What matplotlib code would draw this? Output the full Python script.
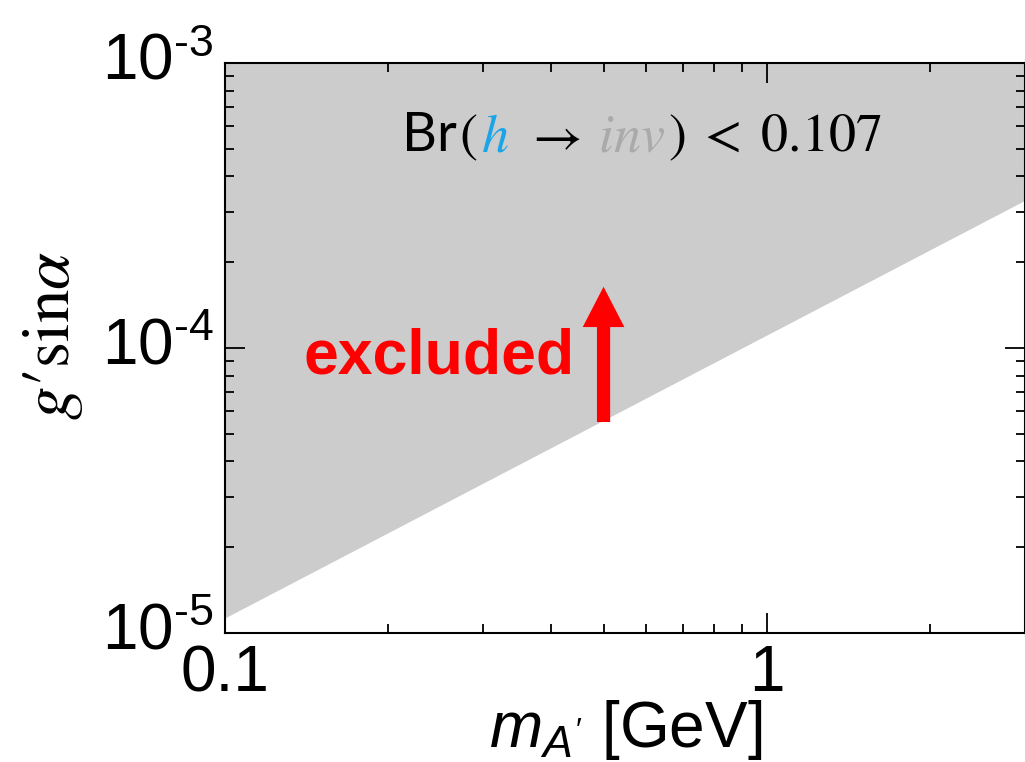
import numpy as np
import matplotlib.pyplot as plt
from matplotlib.offsetbox import TextArea, HPacker, AnnotationBbox
from matplotlib.patches import FancyArrowPatch
from matplotlib.ticker import FixedLocator, FixedFormatter, LogLocator, NullFormatter
from matplotlib.transforms import ScaledTranslation

plt.rcParams['font.family'] = ['Liberation Sans', 'DejaVu Sans']
plt.rcParams['mathtext.fontset'] = 'custom'
plt.rcParams['mathtext.rm'] = 'Liberation Sans'
plt.rcParams['mathtext.it'] = 'Liberation Sans:italic'
plt.rcParams['mathtext.bf'] = 'Liberation Sans:bold'

# invisible-decay bound on the kinetic mixing, straight line in log-log
mass = [0.1, 3.0]
limit = [1.13e-5, 3.3e-4]
y_ceiling = 1e-3

xlim = (0.1, 3.0)
ylim = (1e-5, 1e-3)
xticks = [0.1, 1]
xticklabels = ['0.1', '1']
yticks = [1e-5, 1e-4, 1e-3]
yticklabels = [r'$\mathregular{10^{\text{-}5}}$',
               r'$\mathregular{10^{\text{-}4}}$',
               r'$\mathregular{10^{\text{-}3}}$']

arrow_x = 0.5
arrow_from = 5.5e-5
arrow_to = 1.64e-4

fig = plt.figure(figsize=(10.25, 7.62), dpi=100)
ax = fig.add_axes([0.2195, 0.1693, 0.7805, 0.748])
ax.set_xscale('log')
ax.set_yscale('log')

ax.fill_between(mass, limit, y_ceiling, color='#cccccc', linewidth=0)

ax.set_xlim(*xlim)
ax.set_ylim(*ylim)

ax.xaxis.set_major_locator(FixedLocator(xticks))
ax.xaxis.set_major_formatter(FixedFormatter(xticklabels))
ax.xaxis.set_minor_locator(LogLocator(base=10, subs=np.arange(2, 10)))
ax.xaxis.set_minor_formatter(NullFormatter())
ax.yaxis.set_major_locator(FixedLocator(yticks))
ax.yaxis.set_major_formatter(FixedFormatter(yticklabels))
ax.yaxis.set_minor_locator(LogLocator(base=10, subs=np.arange(2, 10)))
ax.yaxis.set_minor_formatter(NullFormatter())

ax.tick_params(which='both', direction='in', top=True, right=True, width=1.3)
ax.tick_params(which='major', length=14.5)
ax.tick_params(which='minor', length=6.5)
ax.tick_params(axis='x', which='major', labelsize=46, pad=8)
ax.tick_params(axis='y', which='major', labelsize=46, pad=8)
for s in ax.spines.values():
    s.set_linewidth(1.5)

# lift the y tick labels a little
lift = ScaledTranslation(0, 5 / 72, fig.dpi_scale_trans)
for lbl in ax.get_yticklabels():
    lbl.set_transform(lbl.get_transform() + lift)

fig.text(0.052, 0.56, r"$g\prime\mathrm{sin}\alpha$", rotation=90, ha='center',
         va='center', fontsize=48, math_fontfamily='stix')
fig.text(0.61, 0.0197, r"$m_{A'}$ [GeV]", ha='center', va='baseline', fontsize=46)

ax.text(0.4375, 0.456, 'excluded', transform=ax.transAxes, ha='right',
        va='baseline', fontsize=45, fontweight='bold', color='#ff0000')

arrow = FancyArrowPatch((arrow_x, arrow_from), (arrow_x, arrow_to),
                        arrowstyle='simple,head_length=29,head_width=30,tail_width=9.5',
                        mutation_scale=1, color='#ff0000', linewidth=0,
                        shrinkA=0, shrinkB=0)
ax.add_patch(arrow)

# Br(h -> inv) < 0.107, each piece with its own colour
fs = 39
math = dict(fontsize=fs, math_fontfamily='stix')
br = TextArea('Br', textprops=dict(fontsize=fs, family='Lato', color='black'))
lpar = TextArea(r'$($', textprops=dict(color='black', **math))
higgs = TextArea(r'$h$', textprops=dict(color='#1aa5e8', **math))
arr = TextArea(r'$\rightarrow$', textprops=dict(color='black', **math))
inv = TextArea(r'$inv$', textprops=dict(color='#aaaaaa', **math))
rest = TextArea(r'$)\;<\;0.107$', textprops=dict(color='black', **math))

left = HPacker(children=[br, lpar, higgs], align='baseline', pad=0, sep=2)
right = HPacker(children=[inv, rest], align='baseline', pad=0, sep=2)
label = HPacker(children=[left, arr, right], align='baseline', pad=0, sep=12)
ab = AnnotationBbox(label, (0.221, 0.825), xycoords='axes fraction',
                    box_alignment=(0, 0), frameon=False, pad=0)
ax.add_artist(ab)

plt.savefig('out.png', dpi=100)
